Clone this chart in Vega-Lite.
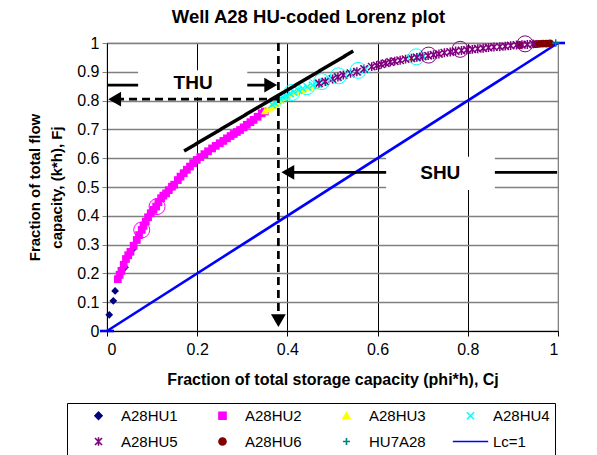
{
  "$schema": "https://vega.github.io/schema/vega-lite/v6.json",
  "width": 451,
  "height": 288,
  "autosize": {"type": "none"},
  "padding": {"left": 107, "top": 43, "right": 39, "bottom": 124},
  "background": "white",
  "config": {
    "font": "Liberation Sans",
    "view": {"stroke": "#808080", "strokeWidth": 1.2},
    "axis": {"labelColor": "#000", "titleColor": "#000"}
  },
  "title": {"text": "Well A28 HU-coded Lorenz plot", "fontSize": 18.5, "fontWeight": "bold", "anchor": "middle", "dx": -24, "offset": 7, "color": "#000"},
  "datasets": {
    "pts": [
      {"series": "A28HU1", "x": 0.005, "y": 0.056}, {"series": "A28HU1", "x": 0.014, "y": 0.105}, {"series": "A28HU1", "x": 0.018, "y": 0.139}, {"series": "A28HU1", "x": 0.040, "y": 0.221}, {"series": "A28HU1", "x": 0.058, "y": 0.285},
      {"series": "A28HU2", "x": 0.024, "y": 0.180}, {"series": "A28HU2", "x": 0.028, "y": 0.195}, {"series": "A28HU2", "x": 0.032, "y": 0.209}, {"series": "A28HU2", "x": 0.037, "y": 0.230}, {"series": "A28HU2", "x": 0.042, "y": 0.250},
      {"series": "A28HU2", "x": 0.047, "y": 0.263}, {"series": "A28HU2", "x": 0.052, "y": 0.275}, {"series": "A28HU2", "x": 0.059, "y": 0.296}, {"series": "A28HU2", "x": 0.066, "y": 0.316}, {"series": "A28HU2", "x": 0.071, "y": 0.333},
      {"series": "A28HU2", "x": 0.077, "y": 0.351}, {"series": "A28HU2", "x": 0.081, "y": 0.365}, {"series": "A28HU2", "x": 0.086, "y": 0.380}, {"series": "A28HU2", "x": 0.091, "y": 0.395}, {"series": "A28HU2", "x": 0.097, "y": 0.409},
      {"series": "A28HU2", "x": 0.103, "y": 0.421}, {"series": "A28HU2", "x": 0.109, "y": 0.432}, {"series": "A28HU2", "x": 0.114, "y": 0.447}, {"series": "A28HU2", "x": 0.120, "y": 0.461}, {"series": "A28HU2", "x": 0.125, "y": 0.470},
      {"series": "A28HU2", "x": 0.131, "y": 0.478}, {"series": "A28HU2", "x": 0.137, "y": 0.489}, {"series": "A28HU2", "x": 0.144, "y": 0.501}, {"series": "A28HU2", "x": 0.149, "y": 0.508}, {"series": "A28HU2", "x": 0.157, "y": 0.524},
      {"series": "A28HU2", "x": 0.163, "y": 0.536}, {"series": "A28HU2", "x": 0.170, "y": 0.548}, {"series": "A28HU2", "x": 0.177, "y": 0.560}, {"series": "A28HU2", "x": 0.184, "y": 0.571}, {"series": "A28HU2", "x": 0.191, "y": 0.583},
      {"series": "A28HU2", "x": 0.199, "y": 0.594}, {"series": "A28HU2", "x": 0.207, "y": 0.604}, {"series": "A28HU2", "x": 0.216, "y": 0.614}, {"series": "A28HU2", "x": 0.224, "y": 0.624}, {"series": "A28HU2", "x": 0.233, "y": 0.634},
      {"series": "A28HU2", "x": 0.241, "y": 0.643}, {"series": "A28HU2", "x": 0.250, "y": 0.652}, {"series": "A28HU2", "x": 0.258, "y": 0.660}, {"series": "A28HU2", "x": 0.266, "y": 0.669}, {"series": "A28HU2", "x": 0.274, "y": 0.677},
      {"series": "A28HU2", "x": 0.281, "y": 0.684}, {"series": "A28HU2", "x": 0.288, "y": 0.691}, {"series": "A28HU2", "x": 0.295, "y": 0.698}, {"series": "A28HU2", "x": 0.303, "y": 0.707}, {"series": "A28HU2", "x": 0.310, "y": 0.716},
      {"series": "A28HU2", "x": 0.318, "y": 0.725}, {"series": "A28HU2", "x": 0.325, "y": 0.733}, {"series": "A28HU2", "x": 0.334, "y": 0.744}, {"series": "A28HU2", "x": 0.343, "y": 0.756}, {"series": "A28HU2", "x": 0.350, "y": 0.762},
      {"series": "A28HU3", "x": 0.350, "y": 0.764}, {"series": "A28HU3", "x": 0.356, "y": 0.770}, {"series": "A28HU3", "x": 0.362, "y": 0.776}, {"series": "A28HU3", "x": 0.368, "y": 0.782}, {"series": "A28HU3", "x": 0.373, "y": 0.786},
      {"series": "A28HU3", "x": 0.378, "y": 0.792}, {"series": "A28HU3", "x": 0.386, "y": 0.800}, {"series": "A28HU3", "x": 0.395, "y": 0.812}, {"series": "A28HU3", "x": 0.405, "y": 0.822}, {"series": "A28HU3", "x": 0.418, "y": 0.830},
      {"series": "A28HU3", "x": 0.432, "y": 0.838}, {"series": "A28HU3", "x": 0.448, "y": 0.846}, {"series": "A28HU3", "x": 0.462, "y": 0.852}, {"series": "A28HU3", "x": 0.676, "y": 0.947},
      {"series": "A28HU6", "x": 0.915, "y": 0.993}, {"series": "A28HU6", "x": 0.950, "y": 0.996}, {"series": "A28HU6", "x": 0.958, "y": 0.997}, {"series": "A28HU6", "x": 0.966, "y": 0.998}, {"series": "A28HU6", "x": 0.974, "y": 0.998}, {"series": "A28HU6", "x": 0.982, "y": 0.999}
    ],
    "spts": [
      {"series": "A28HU4", "x": 0.366, "y": 0.786}, {"series": "A28HU4", "x": 0.372, "y": 0.792}, {"series": "A28HU4", "x": 0.378, "y": 0.800}, {"series": "A28HU4", "x": 0.384, "y": 0.806}, {"series": "A28HU4", "x": 0.390, "y": 0.812},
      {"series": "A28HU4", "x": 0.398, "y": 0.818}, {"series": "A28HU4", "x": 0.406, "y": 0.825}, {"series": "A28HU4", "x": 0.414, "y": 0.830}, {"series": "A28HU4", "x": 0.424, "y": 0.836}, {"series": "A28HU4", "x": 0.434, "y": 0.842},
      {"series": "A28HU4", "x": 0.444, "y": 0.848}, {"series": "A28HU4", "x": 0.456, "y": 0.853}, {"series": "A28HU4", "x": 0.468, "y": 0.858}, {"series": "A28HU4", "x": 0.480, "y": 0.864}, {"series": "A28HU4", "x": 0.495, "y": 0.872},
      {"series": "A28HU4", "x": 0.510, "y": 0.880}, {"series": "A28HU4", "x": 0.525, "y": 0.887}, {"series": "A28HU4", "x": 0.540, "y": 0.894}, {"series": "A28HU4", "x": 0.556, "y": 0.900}, {"series": "A28HU4", "x": 0.572, "y": 0.908},
      {"series": "A28HU4", "x": 0.686, "y": 0.950}, {"series": "A28HU4", "x": 0.694, "y": 0.952},
      {"series": "A28HU5", "x": 0.470, "y": 0.860}, {"series": "A28HU5", "x": 0.484, "y": 0.866}, {"series": "A28HU5", "x": 0.500, "y": 0.875}, {"series": "A28HU5", "x": 0.512, "y": 0.882}, {"series": "A28HU5", "x": 0.524, "y": 0.889},
      {"series": "A28HU5", "x": 0.540, "y": 0.895}, {"series": "A28HU5", "x": 0.554, "y": 0.900}, {"series": "A28HU5", "x": 0.570, "y": 0.910}, {"series": "A28HU5", "x": 0.587, "y": 0.918}, {"series": "A28HU5", "x": 0.598, "y": 0.922},
      {"series": "A28HU5", "x": 0.608, "y": 0.926}, {"series": "A28HU5", "x": 0.618, "y": 0.930}, {"series": "A28HU5", "x": 0.628, "y": 0.934}, {"series": "A28HU5", "x": 0.638, "y": 0.937}, {"series": "A28HU5", "x": 0.650, "y": 0.940},
      {"series": "A28HU5", "x": 0.662, "y": 0.944}, {"series": "A28HU5", "x": 0.675, "y": 0.947}, {"series": "A28HU5", "x": 0.687, "y": 0.950}, {"series": "A28HU5", "x": 0.700, "y": 0.953}, {"series": "A28HU5", "x": 0.712, "y": 0.956},
      {"series": "A28HU5", "x": 0.724, "y": 0.959}, {"series": "A28HU5", "x": 0.736, "y": 0.962}, {"series": "A28HU5", "x": 0.748, "y": 0.966}, {"series": "A28HU5", "x": 0.761, "y": 0.969}, {"series": "A28HU5", "x": 0.773, "y": 0.972},
      {"series": "A28HU5", "x": 0.786, "y": 0.974}, {"series": "A28HU5", "x": 0.798, "y": 0.976}, {"series": "A28HU5", "x": 0.810, "y": 0.978}, {"series": "A28HU5", "x": 0.822, "y": 0.980}, {"series": "A28HU5", "x": 0.834, "y": 0.982},
      {"series": "A28HU5", "x": 0.846, "y": 0.984}, {"series": "A28HU5", "x": 0.858, "y": 0.986}, {"series": "A28HU5", "x": 0.871, "y": 0.987}, {"series": "A28HU5", "x": 0.883, "y": 0.989}, {"series": "A28HU5", "x": 0.895, "y": 0.991},
      {"series": "A28HU5", "x": 0.908, "y": 0.993}, {"series": "A28HU5", "x": 0.920, "y": 0.994}, {"series": "A28HU5", "x": 0.932, "y": 0.995}, {"series": "A28HU5", "x": 0.945, "y": 0.997},
      {"series": "HU7A28", "x": 0.995, "y": 1.0}
    ],
    "circles": [
      {"series": "A28HU2", "x": 0.077, "y": 0.351}, {"series": "A28HU2", "x": 0.111, "y": 0.432},
      {"series": "A28HU4", "x": 0.410, "y": 0.828}, {"series": "A28HU4", "x": 0.443, "y": 0.848}, {"series": "A28HU4", "x": 0.476, "y": 0.866}, {"series": "A28HU4", "x": 0.513, "y": 0.886}, {"series": "A28HU4", "x": 0.557, "y": 0.905}, {"series": "A28HU4", "x": 0.686, "y": 0.952},
      {"series": "A28HU5", "x": 0.713, "y": 0.958}, {"series": "A28HU5", "x": 0.783, "y": 0.978}, {"series": "A28HU5", "x": 0.927, "y": 0.997}
    ],
    "lc": [{"series": "Lc=1", "x": 0, "y": 0}, {"series": "Lc=1", "x": 1, "y": 1}],
    "boxes": [
      {"name": "THU", "x": 0.069, "x2": 0.311, "y": 0.812, "y2": 0.905},
      {"name": "SHU", "x": 0.619, "x2": 0.860, "y": 0.490, "y2": 0.605}
    ],
    "segs": [
      {"kind": "dashed", "x": 0.02, "y": 0.805, "x2": 0.38, "y2": 0.805},
      {"kind": "dashed", "x": 0.38, "y": 1.0, "x2": 0.38, "y2": 0.06},
      {"kind": "solid", "x": 0.0, "y": 0.854, "x2": 0.069, "y2": 0.854},
      {"kind": "solid", "x": 0.311, "y": 0.854, "x2": 0.36, "y2": 0.854},
      {"kind": "solid", "x": 0.40, "y": 0.551, "x2": 0.619, "y2": 0.551},
      {"kind": "solid", "x": 0.86, "y": 0.551, "x2": 0.998, "y2": 0.551},
      {"kind": "tangent", "x": 0.171, "y": 0.625, "x2": 0.546, "y2": 0.972}
    ],
    "heads": [
      {"x": 0.017, "y": 0.805, "angle": 180},
      {"x": 0.363, "y": 0.854, "angle": 0},
      {"x": 0.38, "y": 0.036, "angle": 90},
      {"x": 0.401, "y": 0.551, "angle": 180}
    ],
    "labels": [
      {"text": "THU", "x": 0.191, "y": 0.861},
      {"text": "SHU", "x": 0.739, "y": 0.549}
    ]
  },
  "encoding": {
    "x": {
      "field": "x", "type": "quantitative",
      "scale": {"domain": [0, 1], "nice": false, "zero": false},
      "axis": {
        "title": "Fraction of total storage capacity (phi*h), Cj",
        "values": [0, 0.2, 0.4, 0.6, 0.8, 1], "format": "~g",
        "grid": true, "gridColor": {"condition": {"test": "datum.value === 1", "value": "#808080"}, "value": "#000000"}, "gridWidth": 1,
        "domainColor": "#000", "tickColor": "#000", "tickSize": 5,
        "labelFontSize": 16, "labelPadding": 5,
        "titleFontSize": 16, "titleFontWeight": "bold", "titlePadding": 14
      }
    },
    "y": {
      "field": "y", "type": "quantitative",
      "scale": {"domain": [0, 1], "nice": false, "zero": false},
      "axis": {
        "title": ["Fraction of total flow", "capacity, (k*h), Fj"],
        "values": [0, 0.1, 0.2, 0.3, 0.4, 0.5, 0.6, 0.7, 0.8, 0.9, 1], "format": "~g",
        "grid": true, "gridColor": "#808080", "gridWidth": 1.3,
        "domainColor": "#000", "tickColor": "#808080", "tickSize": 5,
        "labelFontSize": 16, "labelPadding": 3,
        "titleFontSize": 15, "titleFontWeight": "bold", "titlePadding": 12, "titleLineHeight": 22
      }
    }
  },
  "layer": [
    {
      "data": {"name": "boxes"},
      "mark": {"type": "rect", "fill": "white", "stroke": null},
      "encoding": {"x2": {"field": "x2"}, "y2": {"field": "y2"}}
    },
    {
      "data": {"name": "lc"},
      "mark": {"type": "line", "stroke": "#0000FF", "strokeWidth": 2.6}
    },
    {
      "data": {"name": "lc"},
      "mark": {"type": "point", "shape": "stroke", "stroke": "#0000FF", "strokeWidth": 2.6, "size": 196, "opacity": 1}
    },
    {
      "data": {"name": "pts"},
      "mark": {"type": "point", "filled": true, "opacity": 1, "size": 60},
      "encoding": {
        "color": {
          "field": "series", "type": "nominal",
          "scale": {
            "domain": ["A28HU1", "A28HU2", "A28HU3", "A28HU4", "A28HU5", "A28HU6", "HU7A28", "Lc=1"],
            "range": ["#000080", "#FF00FF", "#FFFF00", "#00FFFF", "#800080", "#800000", "#008080", "#0000FF"]
          },
          "legend": {
            "orient": "none", "legendX": -40, "legendY": 360, "direction": "horizontal", "columns": 4,
            "title": null, "strokeColor": "#000", "fillColor": "white", "padding": 5,
            "labelFontSize": 15, "labelColor": "#000", "symbolSize": 50, "symbolOffset": 19, "labelOffset": 15,
            "columnPadding": 18, "rowPadding": 10, "symbolStrokeWidth": 1.6,
            "encode": {"symbols": {"update": {
              "fill": {"scale": "color", "field": "value"},
              "stroke": {"scale": "color", "field": "value"},
              "opacity": {"value": 1}
            }}}
          }
        },
        "shape": {
          "field": "series", "type": "nominal",
          "scale": {
            "domain": ["A28HU1", "A28HU2", "A28HU3", "A28HU4", "A28HU5", "A28HU6", "HU7A28", "Lc=1"],
            "range": ["diamond", "square", "triangle-up", "M-1,-1L1,1M-1,1L1,-1", "M-1,-1L1,1M-1,1L1,-1M0,-1.2L0,1.2", "circle", "M-1,0L1,0M0,-1L0,1", "M-5,0L5,0M-0.9,0L0.9,0"]
          }
        }
      }
    },
    {
      "data": {"name": "spts"},
      "mark": {"type": "point", "filled": false, "opacity": 1, "size": 55, "strokeWidth": 1.5},
      "encoding": {
        "color": {"field": "series", "type": "nominal"},
        "shape": {"field": "series", "type": "nominal"}
      }
    },
    {
      "data": {"name": "circles"},
      "mark": {"type": "point", "shape": "circle", "filled": false, "opacity": 1, "size": 256, "strokeWidth": 1},
      "encoding": {"color": {"field": "series", "type": "nominal"}}
    },
    {
      "data": {"name": "segs"},
      "mark": {"type": "rule", "color": "#000"},
      "encoding": {
        "x2": {"field": "x2"}, "y2": {"field": "y2"},
        "strokeDash": {"condition": {"test": "datum.kind === 'dashed'", "value": [8, 5]}, "value": [1, 0]},
        "strokeWidth": {"condition": {"test": "datum.kind === 'tangent'", "value": 3.5}, "value": 2.7}
      }
    },
    {
      "data": {"name": "heads"},
      "mark": {"type": "point", "shape": "triangle-right", "filled": true, "color": "#000", "opacity": 1, "size": 220},
      "encoding": {"angle": {"field": "angle", "type": "quantitative", "scale": null}}
    },
    {
      "data": {"name": "labels"},
      "mark": {"type": "text", "fontSize": 19, "fontWeight": "bold", "color": "#000", "align": "center", "baseline": "middle"},
      "encoding": {"text": {"field": "text"}}
    }
  ]
}
